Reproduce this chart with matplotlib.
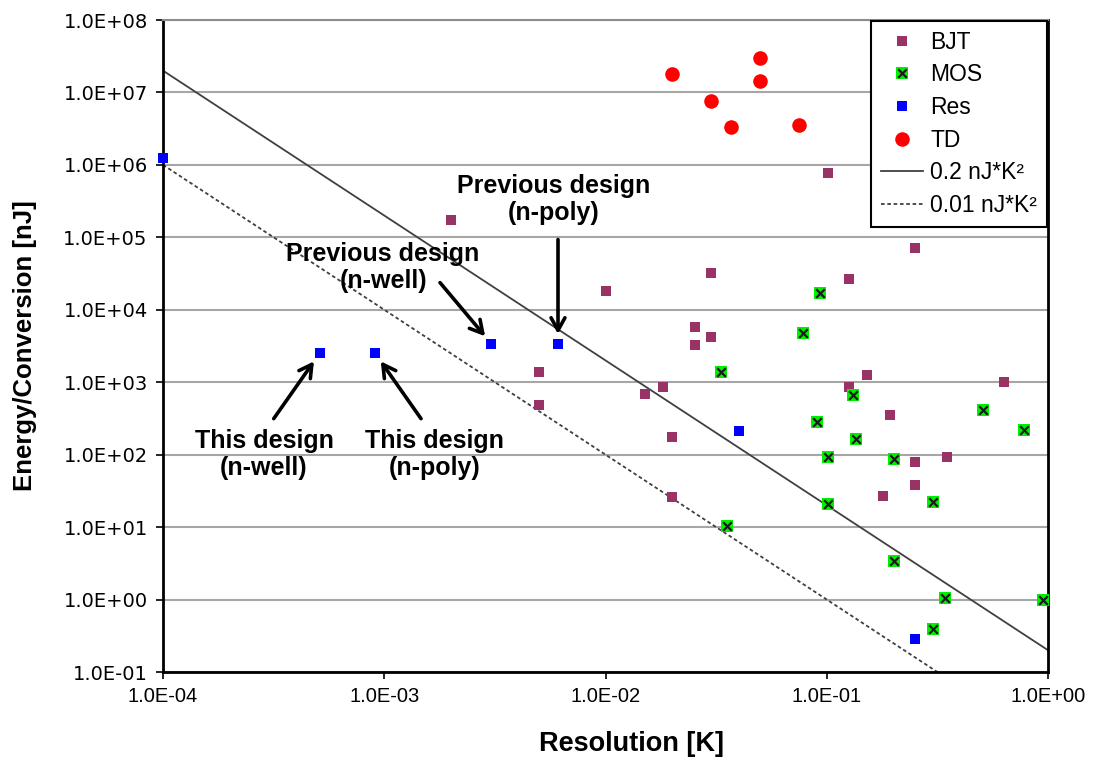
import numpy as np
import matplotlib
matplotlib.use("Agg")
import matplotlib.pyplot as plt
from matplotlib.legend_handler import HandlerTuple

plt.rcParams['font.family'] = ['Liberation Sans', 'DejaVu Sans']

# ---- data -------------------------------------------------------------
bjt_res = [2.0e-3, 5.0e-3, 5.0e-3, 1.0e-2, 1.51e-2, 1.82e-2, 2.0e-2, 2.0e-2,
           2.53e-2, 2.53e-2, 3.0e-2, 3.0e-2, 1.01e-1, 1.26e-1, 1.26e-1,
           1.52e-1, 1.8e-1, 1.93e-1, 2.5e-1, 2.5e-1, 2.5e-1, 3.5e-1, 6.3e-1]
bjt_energy = [1.75e5, 1.4e3, 4.8e2, 1.8e4, 6.9e2, 8.5e2, 1.75e2, 2.6e1,
              5.8e3, 3.3e3, 3.25e4, 4.25e3, 7.7e5, 2.66e4, 8.7e2,
              1.25e3, 2.7e1, 3.5e2, 7.1e4, 7.9e1, 3.8e1, 9.2e1, 1.02e3]

mos_res = [9.3e-2, 7.85e-2, 3.31e-2, 1.31e-1, 5.07e-1, 9.0e-2, 7.82e-1,
           1.35e-1, 1.01e-1, 2.01e-1, 1.01e-1, 3.03e-1, 3.54e-2, 2.01e-1,
           3.44e-1, 9.53e-1, 3.03e-1]
mos_energy = [1.69e4, 4.73e3, 1.37e3, 6.6e2, 4.2e2, 2.85e2, 2.2e2,
              1.66e2, 9.2e1, 8.7e1, 2.08e1, 2.2e1, 1.04e1, 3.4e0,
              1.04e0, 0.98e0, 0.39e0]

res_res = [1.0e-4, 5.1e-4, 9.1e-4, 3.05e-3, 6.1e-3, 4.03e-2, 2.5e-1]
res_energy = [1.23e6, 2.5e3, 2.5e3, 3.4e3, 3.4e3, 2.12e2, 0.29]

td_res = [2.0e-2, 3.0e-2, 3.7e-2, 5.0e-2, 5.0e-2, 7.5e-2]
td_energy = [1.8e7, 7.6e6, 3.33e6, 2.99e7, 1.44e7, 3.56e6]

# figure-of-merit lines: energy = k / resolution^2
fom_values = [0.2, 0.01]
fom_labels = ['0.2 nJ*K\u00b2', '0.01 nJ*K\u00b2']

x_ticks = [1e-4, 1e-3, 1e-2, 1e-1, 1e0]
x_ticklabels = ['1.0E-04', '1.0E-03', '1.0E-02', '1.0E-01', '1.0E+00']
y_ticks = [1e-1, 1e0, 1e1, 1e2, 1e3, 1e4, 1e5, 1e6, 1e7, 1e8]
y_ticklabels = ['1.0E-01', '1.0E+00', '1.0E+01', '1.0E+02', '1.0E+03',
                '1.0E+04', '1.0E+05', '1.0E+06', '1.0E+07', '1.0E+08']

# ---- figure -----------------------------------------------------------
fig = plt.figure(figsize=(11.01, 7.58), dpi=100)
ax = fig.add_axes([163 / 1101, 1 - 672 / 758, 885 / 1101, 652 / 758])
ax.set_xscale('log')
ax.set_yscale('log')
ax.set_xlim(1e-4, 1e0)
ax.set_ylim(1e-1, 1e8)

grid_color = '#a6a6a6'
ax.yaxis.grid(True, color=grid_color, lw=1.5, zorder=0)
ax.xaxis.grid(False)
ax.set_axisbelow(True)

for side in ('left', 'bottom', 'right'):
    ax.spines[side].set_color('black')
    ax.spines[side].set_linewidth(2.0)
ax.spines['top'].set_color('#8c8c8c')
ax.spines['top'].set_linewidth(1.5)

ax.set_xticks(x_ticks)
ax.set_xticklabels(x_ticklabels)
ax.set_yticks(y_ticks)
ax.set_yticklabels(y_ticklabels)
ax.minorticks_off()
ax.tick_params(axis='both', direction='out', length=5, width=1.2, color='black')
ax.tick_params(axis='x', pad=6, labelsize=14.5)
ax.tick_params(axis='y', pad=6, labelsize=14)
for lab in ax.get_yticklabels():
    lab.set_family(['DejaVu Sans'])

# reference lines
xr = np.array([1e-4, 1e0])
solid_line, = ax.plot(xr, fom_values[0] / xr ** 2, color='#404040', lw=1.3,
                      zorder=2)
dotted_line, = ax.plot(xr, fom_values[1] / xr ** 2, color='#404040', lw=1.3,
                       linestyle=(0, (2, 1.5)), zorder=2)

# data series
h_bjt = ax.scatter(bjt_res, bjt_energy, marker='s', s=55, color='#993366',
                   linewidths=0, zorder=3, clip_on=False)
h_mos_bg = ax.scatter(mos_res, mos_energy, marker='s', s=70, color='#00ee00',
                      linewidths=0, zorder=3, clip_on=False)
h_mos_x = ax.scatter(mos_res, mos_energy, marker='x', s=38, color='#1a1a1a',
                     linewidths=1.6, zorder=4, clip_on=False)
h_res = ax.scatter(res_res, res_energy, marker='s', s=60, color='#0000ff',
                   linewidths=0, zorder=3, clip_on=False)
h_td = ax.scatter(td_res, td_energy, marker='o', s=110, color='#ff0000',
                  linewidths=0, zorder=3, clip_on=False)

leg = ax.legend([h_bjt, (h_mos_bg, h_mos_x), h_res, h_td, solid_line, dotted_line],
                ['BJT', 'MOS', 'Res', 'TD', fom_labels[0], fom_labels[1]],
                handler_map={tuple: HandlerTuple(ndivide=1)},
                loc='upper right', bbox_to_anchor=(1.0, 1.0), borderaxespad=0.05,
                fontsize=16.5, frameon=True, fancybox=False, framealpha=1,
                edgecolor='black', labelspacing=0.42, handlelength=1.85,
                handletextpad=0.32, borderpad=0.42, scatterpoints=1,
                scatteryoffsets=[0.5])
leg.get_frame().set_linewidth(1.5)
leg.set_zorder(10)

ax.set_xlabel('Resolution [K]', fontsize=19.5, fontweight='bold')
ax.xaxis.set_label_coords(0.529, -0.09)
ax.set_ylabel('Energy/Conversion [nJ]', fontsize=18.5, fontweight='bold')
ax.yaxis.set_label_coords(-0.142, 0.5)

# design annotations (offsets in points from the marked resistor points)
ann_font = dict(fontsize=18, fontweight='bold', ha='center', va='center',
                linespacing=1.15)
arrow_kw = dict(arrowstyle='->,head_length=0.9,head_width=0.5', color='black',
                lw=2.6, shrinkA=0, shrinkB=7)

labels = [
    ('This design\n(n-well)', res_res[1], res_energy[1], (-40, -73), (-33, -47)),
    ('This design\n(n-poly)', res_res[2], res_energy[2], (43, -73), (33, -47)),
    ('Previous design\n(n-well)', res_res[3], res_energy[3], (-78, 55), (-37, 44)),
    ('Previous design\n(n-poly)', res_res[4], res_energy[4], (-3, 104), (0, 75)),
]
for text, xv, yv, text_off, tail_off in labels:
    ax.annotate(text, xy=(xv, yv), xytext=text_off, textcoords='offset points',
                zorder=6, **ann_font)
    ax.annotate('', xy=(xv, yv), xytext=tail_off, textcoords='offset points',
                arrowprops=arrow_kw, zorder=6)

fig.savefig('out.png', dpi=100)
